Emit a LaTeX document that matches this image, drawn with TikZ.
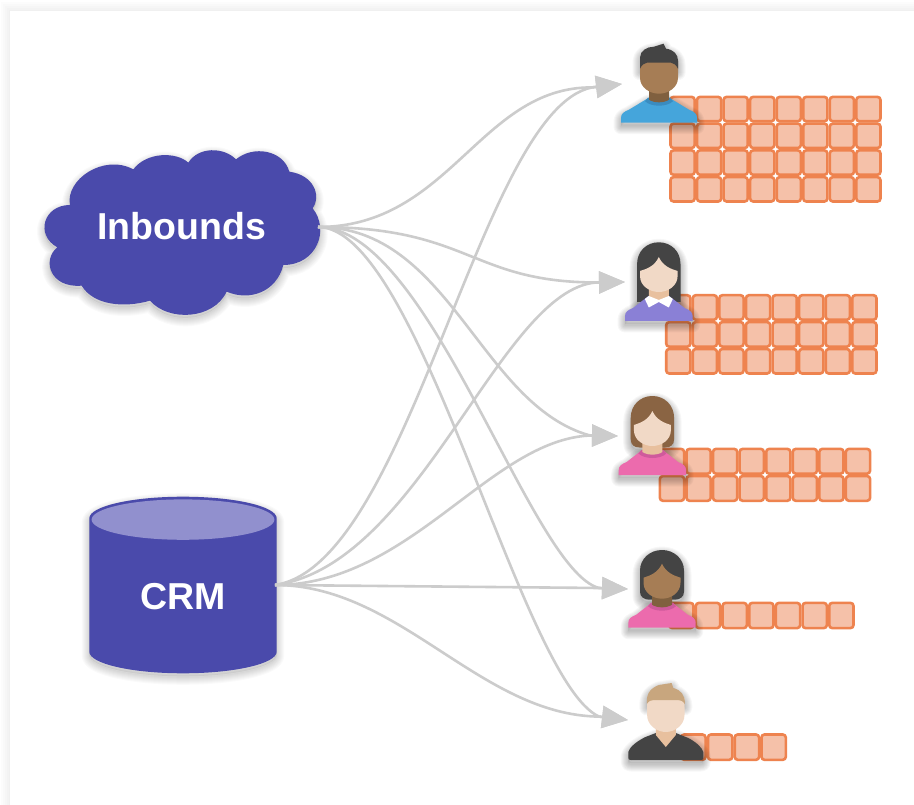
\documentclass[tikz,border=0pt]{standalone}
\usepackage{fontspec}
\setmainfont{Liberation Sans}
\usetikzlibrary{arrows.meta}
\definecolor{indigo}{HTML}{4A4AAB}
\definecolor{topcap}{HTML}{9190CE}
\definecolor{flowgray}{HTML}{CCCCCC}
\definecolor{cellfill}{HTML}{F5C1A9}
\definecolor{celledge}{HTML}{EE834F}
\definecolor{hairdark}{HTML}{444444}
\definecolor{hairbrown}{HTML}{8A6443}
\definecolor{hairblond}{HTML}{C8A67E}
\definecolor{skinlight}{HTML}{F1D9C6}
\definecolor{necklight}{HTML}{E8C09E}
\definecolor{skindark}{HTML}{A67D55}
\definecolor{neckdark}{HTML}{80603F}
\definecolor{shirtblue}{HTML}{45A5DB}
\definecolor{collarblue}{HTML}{3A8CC0}
\definecolor{shirtviolet}{HTML}{8A80D6}
\definecolor{shirtpink}{HTML}{EC6BAD}
\definecolor{collarpink}{HTML}{CF5A9C}
\tikzset{
  flow/.style={draw=flowgray,line width=2.6pt,-{Triangle[length=26pt,width=22pt]}},
  labeltext/.style={text=white,font=\fontsize{37.5}{40}\selectfont\bfseries,anchor=base,inner sep=0pt},
  cell/.style={draw=celledge,fill=cellfill,line width=2.6pt,rounded corners=3pt},
}
% soft shadow: stacked translucent copies of a silhouette
\newcommand\softshadow[2][.03]{\foreach \w in {15,13,11,9,7,5,3,1}{\path[draw=black,line width=\w pt,line join=round,opacity=#1,yshift=-4pt] #2;}\path[fill=black,opacity=.08,yshift=-3pt] #2;}
\newcommand\cards[6]{% left top right bottom cols rows
  \pgfmathsetmacro\px{(#3-#1)/#5}\pgfmathsetmacro\py{(#4-#2)/#6}
  \foreach \i in {1,...,#5}{\foreach \j in {1,...,#6}{
    \path[cell] ({#1+(\i-1)*\px+1.2},{#2+(\j-1)*\py+1.2}) rectangle ({#1+\i*\px-1.2},{#2+\j*\py-1.2});
  }}}
\newcommand\bodypath[1]{(-#1,0) -- (-#1,-5) .. controls (-#1,-9) and (-#1+3,-11) .. (-#1+8,-13) -- (-11,-24.5) -- (11,-24.5) -- (#1-8,-13) .. controls (#1-3,-11) and (#1,-9) .. (#1,-5) -- (#1,0) -- cycle}
\newcommand\collarband[1]{\fill[#1] (-14,-21.5) .. controls (-8,-15.5) and (8,-15.5) .. (14,-21.5) -- (11,-25) -- (-11,-25) -- cycle;}
\newcommand\neckpart[1]{\fill[#1] (-10,-42) -- (-10,-23) .. controls (-5,-19.5) and (5,-19.5) .. (10,-23) -- (10,-42) -- cycle;}
\newcommand\femaleface[2]{\fill[#1] (-#2,-50) .. controls (-12,-52) and (-4,-55) .. (0,-64) .. controls (4,-55) and (12,-52) .. (#2,-50) -- \facelowrev{#2} -- cycle;}
\newcommand\facelowrev[1]{(#1,-45) .. controls (#1,-35) and (9,-29) .. (0,-29) .. controls (-9,-29) and (-#1,-35) .. (-#1,-45)}
\begin{document}
\begin{tikzpicture}[x=1pt,y=-1pt]
\useasboundingbox (0,0) rectangle (914,805);
\fill[white] (0,0) rectangle (914,805);
% page card with faint shadow
\foreach \k in {9,7,5,3,1}{\fill[black,opacity=.011] (10-\k,11-\k) rectangle (914,805);}
\fill[white] (10,11) rectangle (914,805);

% --- cloud ---
\begin{scope}[shift={(0,130)},x=.33333pt,y=-.33333pt]
\newcommand\cloudpath{(210,225) .. controls (195,150) and (310,70) .. (400,118)
 .. controls (440,65) and (530,65) .. (565,98)
 .. controls (595,50) and (670,50) .. (708,88)
 .. controls (760,45) and (850,60) .. (868,125)
 .. controls (940,135) and (965,195) .. (938,235)
 .. controls (990,300) and (950,405) .. (850,405)
 .. controls (830,485) and (750,515) .. (680,485)
 .. controls (640,570) and (505,575) .. (450,512)
 .. controls (370,535) and (280,525) .. (245,467)
 .. controls (150,475) and (125,390) .. (172,352)
 .. controls (105,315) and (130,225) .. (210,225) -- cycle}
\softshadow[.02]{\cloudpath}
\fill[indigo] \cloudpath;
\end{scope}
\node[labeltext] (inbounds) at (181.5,239.3) {Inbounds};

% --- database ---
\newcommand\cylpath{(89.3,518.3) .. controls (89.3,506.4) and (131.2,496.7) .. (183,496.7) .. controls (234.8,496.7) and (276.7,506.4) .. (276.7,518.3) -- (276.7,651.7) .. controls (276.7,663.6) and (234.8,673.3) .. (183,673.3) .. controls (131.2,673.3) and (89.3,663.6) .. (89.3,651.7) -- cycle}
\softshadow[.02]{\cylpath}
\fill[indigo] \cylpath;
\fill[topcap] (91.6,519.6) .. controls (91.6,508.5) and (132.5,499.4) .. (183,499.4) .. controls (233.5,499.4) and (274.4,508.5) .. (274.4,519.6) .. controls (274.4,530.7) and (233.5,539.8) .. (183,539.8) .. controls (132.5,539.8) and (91.6,530.7) .. (91.6,519.6) -- cycle;
\node[labeltext] (crm) at (182.7,609.3) {CRM};

% --- connector anchors ---
\coordinate (inbout) at (318,227);
\coordinate (crmout) at (275,585);
\coordinate (b1) at (592,87.4);  \coordinate (t1) at (622,84);
\coordinate (b2) at (596,282.5); \coordinate (t2) at (625,282);
\coordinate (b3) at (590,435.5); \coordinate (t3) at (618,436);
\coordinate (b4) at (599,588);   \coordinate (t4) at (628,589);
\coordinate (b5) at (599,716.6); \coordinate (t5) at (628,720);

\draw[flow] (inbout) .. controls (450,227) and (480,87) .. (b1) -- (t1);
\draw[flow] (inbout) .. controls (470,227) and (470,282) .. (b2) -- (t2);
\draw[flow] (inbout) .. controls (450,227) and (480,405) .. (b3) -- (t3);
\draw[flow] (inbout) .. controls (430,227) and (530,570) .. (b4) -- (t4);
\draw[flow] (inbout) .. controls (420,227) and (520,680) .. (b5) -- (t5);
\draw[flow] (crmout) .. controls (410,565) and (480,110) .. (b1) -- (t1);
\draw[flow] (crmout) .. controls (420,565) and (500,290) .. (b2) -- (t2);
\draw[flow] (crmout) .. controls (410,585) and (490,440) .. (b3) -- (t3);
\draw[flow] (crmout) -- (b4) -- (t4);
\draw[flow] (crmout) .. controls (400,585) and (480,715) .. (b5) -- (t5);

% --- queues ---
\cards{669.3}{95.7}{881.7}{202.7}{8}{4}
\cards{665}{294}{877.7}{374.7}{8}{3}
\cards{658.7}{447.7}{871.3}{502}{8}{2}
\cards{668}{601.7}{854.7}{629.3}{7}{1}
\cards{680}{733.3}{787}{761}{4}{1}

% --- person 1 ---
\begin{scope}[shift={(659,122.7)}]
\newcommand\hairone{(-19,-54) -- (-19,-65) .. controls (-19,-72) and (-12,-76) .. (-5,-76) -- (4.5,-79) -- (7,-74) .. controls (15,-73) and (19,-68) .. (19,-62) -- (19,-54) .. controls (17,-58) and (15,-59.5) .. (12,-60) -- (-12,-60) .. controls (-15,-59.5) and (-17,-58) .. (-19,-54) -- cycle}
\softshadow{\hairone}
\softshadow{\bodypath{38}}
\fill[shirtblue] \bodypath{38};
\collarband{collarblue}
\neckpart{neckdark}
\fill[skindark] (-19,-62) -- (19,-62) -- \facelowrev{19} -- cycle;
\fill[hairdark] \hairone;
\end{scope}

% --- person 2 ---
\begin{scope}[shift={(658.8,321)}]
\newcommand\hairtwo{(-21.7,-19) -- (-21.7,-57) .. controls (-21.7,-70) and (-12,-78.7) .. (0,-78.7) .. controls (12,-78.7) and (21.7,-70) .. (21.7,-57) -- (21.7,-19) -- cycle}
\softshadow{\hairtwo}
\softshadow{\bodypath{33.8}}
\fill[hairdark] \hairtwo;
\fill[shirtviolet] \bodypath{33.8};
\neckpart{necklight}
\fill[white] (-14,-22) -- (-10,-25) -- (0,-21) -- (10,-25) -- (14,-22) -- (10,-13.5) -- (0,-19) -- (-10,-13.5) -- cycle;
\femaleface{skinlight}{18.8}
\end{scope}

% --- person 3 ---
\begin{scope}[shift={(652.4,475)}]
\newcommand\hairthree{(-21.7,-36) -- (-21.7,-57) .. controls (-21.7,-70) and (-12,-79) .. (0,-79) .. controls (12,-79) and (21.7,-70) .. (21.7,-57) -- (21.7,-36) .. controls (21.7,-30) and (18,-27.5) .. (13,-27.5) -- (-13,-27.5) .. controls (-18,-27.5) and (-21.7,-30) .. (-21.7,-36) -- cycle}
\softshadow{\hairthree}
\softshadow{\bodypath{33.7}}
\fill[hairbrown] \hairthree;
\fill[shirtpink] \bodypath{33.7};
\collarband{collarpink}
\neckpart{necklight}
\femaleface{skinlight}{18.5}
\end{scope}

% --- person 4 ---
\begin{scope}[shift={(662,627.7)}]
\newcommand\hairfour{(-22,-36) -- (-22,-57) .. controls (-22,-69) and (-12,-77.7) .. (0,-77.7) .. controls (12,-77.7) and (22,-69) .. (22,-57) -- (22,-36) .. controls (22,-31) and (18,-28) .. (13,-28) -- (-13,-28) .. controls (-18,-28) and (-22,-31) .. (-22,-36) -- cycle}
\softshadow{\hairfour}
\softshadow{\bodypath{33.7}}
\fill[hairdark] \hairfour;
\fill[shirtpink] \bodypath{33.7};
\collarband{collarpink}
\neckpart{neckdark}
\femaleface{skindark}{18.5}
\end{scope}

% --- person 5 ---
\begin{scope}[shift={(665.8,760)}]
\newcommand\hairfive{(-19,-56) .. controls (-19.5,-65) and (-17,-71) .. (-7,-75) -- (5.8,-77) -- (7.5,-72) .. controls (15,-70) and (19.5,-65) .. (19,-56) .. controls (17,-59) and (15,-60) .. (12,-60) -- (-12,-60) .. controls (-15,-60) and (-17,-59) .. (-19,-56) -- cycle}
\newcommand\bodyfive{(-37.5,-2) -- (-37.5,-8) .. controls (-36,-13) and (-30,-18) .. (-21,-22.7) -- (-10,-27) -- (10,-27) -- (22.5,-22) .. controls (30,-18) and (36,-13) .. (37.5,-8) -- (37.5,-2) .. controls (37.5,-.5) and (36.5,0) .. (35,0) -- (-35,0) .. controls (-36.5,0) and (-37.5,-.5) .. (-37.5,-2) -- cycle}
\softshadow{\hairfive}
\softshadow{\bodyfive}
\fill[hairdark] \bodyfive;
\fill[necklight] (-10,-42) -- (-10,-25) -- (0,-13) -- (10,-25) -- (10,-42) -- cycle;
\fill[skinlight] (-18.7,-62) -- (18.7,-62) -- (18.7,-45) .. controls (18.7,-35) and (9,-28) .. (0,-28) .. controls (-9,-28) and (-18.7,-35) .. (-18.7,-45) -- cycle;
\fill[hairblond] \hairfive;
\end{scope}
\end{tikzpicture}
\end{document}
